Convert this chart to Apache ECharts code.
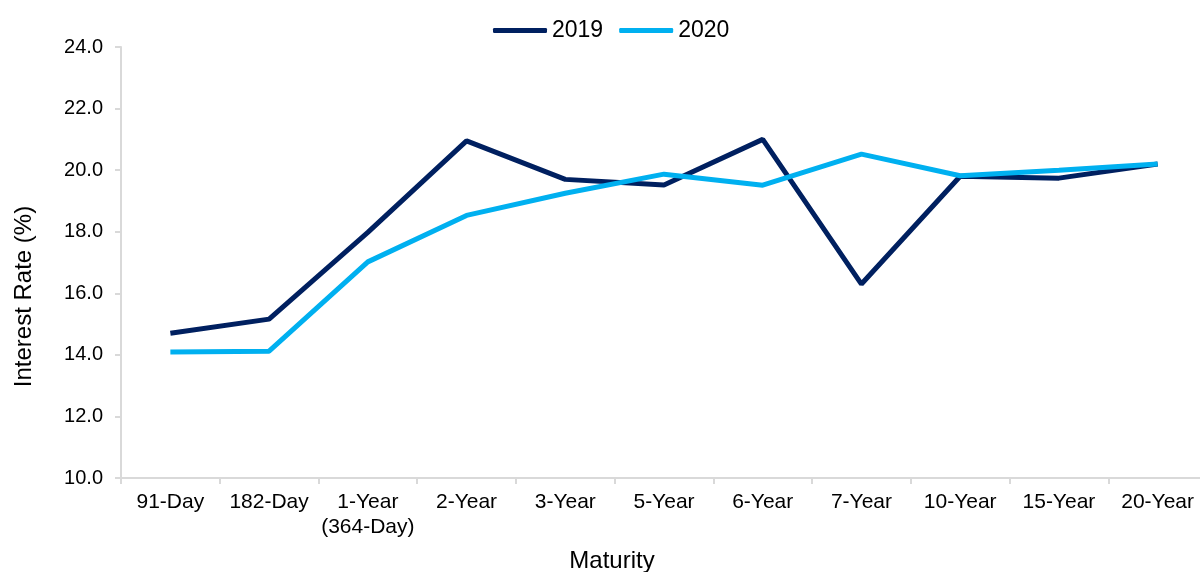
<!DOCTYPE html>
<html>
<head>
<meta charset="utf-8">
<script src="https://cdn.jsdelivr.net/npm/echarts@6/dist/echarts.min.js"></script>
<style>
html,body{margin:0;padding:0;background:#fff;}
#chart{width:1200px;height:572px;}
</style>
</head>
<body>
<div id="chart"></div>
<script>
var categories = ['91-Day', '182-Day', '1-Year\n(364-Day)', '2-Year', '3-Year', '5-Year', '6-Year', '7-Year', '10-Year', '15-Year', '20-Year'];
var series2019 = [14.70, 15.16, 17.98, 20.95, 19.70, 19.52, 21.00, 16.30, 19.80, 19.74, 20.20];
var series2020 = [14.09, 14.12, 17.02, 18.53, 19.25, 19.87, 19.51, 20.52, 19.82, 20.00, 20.20];
var yTicks = { min: 10, max: 24, interval: 2 };

var chart = echarts.init(document.getElementById('chart'));
var font = 'Liberation Sans, Arial, sans-serif';
chart.setOption({
  animation: false,
  textStyle: { fontFamily: font },
  legend: {
    left: 488,
    top: 14,
    itemWidth: 54,
    itemHeight: 5,
    itemGap: 16,
    icon: 'roundRect',
    textStyle: { fontSize: 23, color: '#000', fontFamily: font },
    data: ['2019', '2020']
  },
  grid: { left: 121, top: 47, width: 1086, height: 431, containLabel: false, outerBoundsMode: 'none' },
  xAxis: {
    type: 'category',
    data: categories,
    boundaryGap: true,
    axisLine: { lineStyle: { color: '#d9d9d9', width: 2 } },
    axisTick: { show: true, length: 6, lineStyle: { color: '#d9d9d9', width: 2 } },
    axisLabel: { color: '#000', fontSize: 21, margin: 12, lineHeight: 25, interval: 0, fontFamily: font },
    splitLine: { show: false },
    name: 'Maturity',
    nameLocation: 'middle',
    nameGap: 71,
    nameTextStyle: { color: '#000', fontSize: 24, fontFamily: font, padding: [0, 104, 0, 0] }
  },
  yAxis: {
    type: 'value',
    min: yTicks.min,
    max: yTicks.max,
    interval: yTicks.interval,
    axisLine: { show: true, lineStyle: { color: '#d9d9d9', width: 2 } },
    axisTick: { show: true, length: 6, lineStyle: { color: '#d9d9d9', width: 2 } },
    axisLabel: { color: '#000', fontSize: 20, margin: 18, fontFamily: font, formatter: function (v) { return v.toFixed(1); } },
    splitLine: { show: false },
    name: 'Interest Rate (%)',
    nameLocation: 'middle',
    nameGap: 85,
    nameTextStyle: { color: '#000', fontSize: 24, fontFamily: font, padding: [0, 68, 0, 0] }
  },
  series: [
    {
      name: '2019', type: 'line', data: series2019, symbol: 'none',
      lineStyle: { color: '#002060', width: 5 }, itemStyle: { color: '#002060' }, z: 2
    },
    {
      name: '2020', type: 'line', data: series2020, symbol: 'none',
      lineStyle: { color: '#00b0f0', width: 5 }, itemStyle: { color: '#00b0f0' }, z: 3
    }
  ]
});
</script>
</body>
</html>
